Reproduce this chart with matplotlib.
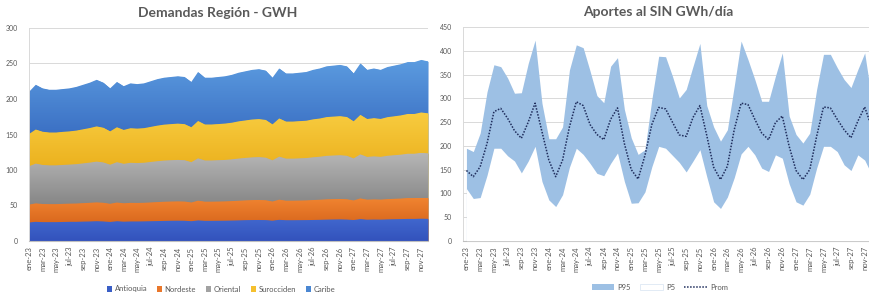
import numpy as np
import matplotlib
matplotlib.use("Agg")
import matplotlib.pyplot as plt
from matplotlib.patches import Patch
from matplotlib.lines import Line2D
from matplotlib.colors import LinearSegmentedColormap

# eje de tiempo: ene-23 .. dic-27
meses = ["ene", "feb", "mar", "abr", "may", "jun", "jul", "ago", "sep", "oct", "nov", "dic"]
anios = ["23", "24", "25", "26", "27"]
fechas = [m + "-" + a for a in anios for m in meses]

# demandas por region (GWh)
regiones = ["Antioquia", "Nordeste", "Oriental", "Surocciden", "Caribe"]
antioquia = [26.0, 27.0, 26.5, 26.5, 26.5, 26.8, 27.0, 27.0, 27.3, 27.5, 27.8, 27.5,
             26.8, 27.8, 27.2, 27.5, 27.5, 27.6, 27.8, 28.0, 28.3, 28.5, 28.6, 28.5,
             27.8, 29.0, 28.4, 28.4, 28.5, 28.6, 28.8, 29.0, 29.3, 29.5, 29.6, 29.4,
             28.6, 29.8, 29.2, 29.2, 29.3, 29.4, 29.6, 29.8, 30.1, 30.3, 30.4, 30.2,
             29.5, 30.8, 30.0, 30.2, 30.1, 30.4, 30.6, 30.8, 31.1, 31.1, 31.4, 31.2]
nordeste = [25.2, 26.0, 25.6, 25.4, 25.4, 25.5, 25.6, 25.8, 26.0, 26.3, 26.6, 26.3,
            25.6, 26.4, 25.9, 26.2, 26.1, 26.2, 26.5, 26.8, 27.0, 27.1, 27.2, 27.1,
            26.4, 27.8, 27.0, 27.0, 27.1, 27.2, 27.4, 27.7, 27.9, 28.1, 28.2, 28.0,
            27.0, 28.4, 27.6, 27.6, 27.7, 27.8, 28.1, 28.3, 28.6, 28.7, 28.8, 28.6,
            27.6, 29.2, 28.2, 28.4, 28.2, 28.6, 28.8, 29.0, 29.4, 29.4, 29.8, 29.6]
oriental = [54.0, 56.0, 55.0, 54.6, 54.6, 54.8, 55.0, 55.4, 56.0, 56.6, 57.4, 56.8,
            55.0, 56.8, 55.6, 56.4, 56.2, 56.4, 57.0, 57.6, 58.0, 58.2, 58.4, 58.2,
            56.8, 59.6, 58.0, 58.0, 58.2, 58.4, 58.8, 59.4, 59.8, 60.2, 60.4, 60.0,
            58.0, 60.6, 59.2, 59.2, 59.4, 59.6, 60.2, 60.6, 61.2, 61.4, 61.6, 61.2,
            59.2, 62.0, 60.2, 60.6, 60.2, 61.0, 61.4, 61.8, 62.4, 62.4, 63.0, 62.6]
surocciden = [45.5, 48.0, 46.8, 46.3, 46.3, 46.6, 46.8, 47.3, 48.0, 48.7, 49.6, 48.9,
              47.0, 49.2, 47.7, 48.7, 48.5, 48.7, 49.4, 50.1, 50.6, 50.8, 51.1, 50.8,
              49.2, 52.6, 50.7, 50.7, 50.9, 51.2, 51.6, 52.4, 52.8, 53.3, 53.5, 53.1,
              50.6, 53.8, 52.2, 52.2, 52.4, 52.6, 53.4, 53.8, 54.6, 54.8, 55.0, 54.6,
              52.2, 55.6, 53.4, 53.8, 53.4, 54.4, 54.8, 55.3, 56.0, 56.0, 56.8, 56.4]
caribe = [59.3, 63.0, 61.1, 60.2, 60.2, 60.3, 60.6, 61.5, 62.7, 63.9, 65.6, 63.5,
          60.6, 63.8, 61.6, 63.2, 62.7, 63.1, 64.3, 65.5, 66.1, 66.4, 66.7, 66.4,
          63.8, 69.0, 65.9, 65.9, 66.3, 66.6, 67.4, 68.5, 69.2, 69.9, 70.3, 69.5,
          65.8, 70.4, 67.8, 67.8, 68.2, 68.6, 69.7, 70.5, 71.5, 71.8, 72.2, 71.4,
          67.5, 72.4, 69.2, 70.0, 69.1, 70.6, 71.4, 72.1, 73.1, 73.1, 74.0, 73.2]

# aportes al SIN (GWh/dia)
p95 = [195, 188, 227, 314, 371, 367, 343, 311, 312, 374, 423, 290,
       215, 215, 240, 360, 413, 407, 358, 306, 291, 368, 386, 277,
       217, 182, 192, 298, 389, 388, 347, 301, 319, 368, 416, 285,
       240, 210, 234, 326, 421, 382, 340, 294, 294, 347, 396, 263,
       224, 206, 227, 319, 393, 393, 365, 340, 323, 361, 396, 300]
p5 = [110, 89, 91, 138, 195, 195, 179, 168, 143, 168, 199, 125,
      86, 72, 97, 155, 195, 182, 163, 142, 137, 163, 185, 125,
      79, 80, 103, 156, 199, 195, 180, 165, 145, 168, 192, 135,
      82, 68, 92, 133, 183, 199, 181, 153, 146, 181, 174, 120,
      82, 75, 98, 153, 199, 199, 188, 160, 148, 181, 170, 140]
prom = [148, 135, 156, 205, 272, 279, 258, 232, 216, 250, 290, 230,
        170, 135, 170, 240, 293, 285, 245, 224, 213, 256, 280, 205,
        150, 130, 180, 245, 281, 278, 250, 223, 220, 260, 285, 222,
        155, 129, 157, 234, 290, 287, 256, 227, 213, 249, 263, 199,
        148, 129, 150, 220, 282, 280, 256, 234, 217, 252, 282, 240]

colores = ["#3A5EC6", "#E9772B", "#A2A2A2", "#F5C02E", "#4B87D2"]
# degradado de cada banda: (abajo, arriba)
degradados = [("#3352BC", "#4168CE"), ("#DA681E", "#F08430"), ("#868686", "#B6B6B6"),
              ("#ECB21F", "#F8CC40"), ("#3B70C4", "#5C9CE0")]
gris_txt = "#595959"
gris_grid = "#D9D9D9"

plt.rcParams["font.family"] = ["Lato", "DejaVu Sans"]

W, H = 869, 300
fig = plt.figure(figsize=(W / 100, H / 100), dpi=100)


def estilo_ejes(ax, ymax, paso):
    ax.set_ylim(0, ymax)
    ax.set_yticks(np.arange(0, ymax + 1, paso))
    ax.grid(axis="y", color=gris_grid, lw=0.7, zorder=0)
    ax.set_axisbelow(True)
    for s in ["top", "right"]:
        ax.spines[s].set_visible(False)
    ax.spines["left"].set_color(gris_grid)
    ax.spines["left"].set_linewidth(0.7)
    ax.spines["bottom"].set_color("#BFBFBF")
    ax.spines["bottom"].set_linewidth(0.8)
    ax.tick_params(axis="both", length=0, colors=gris_txt)
    ax.tick_params(axis="y", pad=8, labelsize=5)
    ax.tick_params(axis="x", pad=4, labelsize=5.5)


x = np.arange(len(fechas))
ticks = x[::2]

# ---- izquierda: demandas por region ----
ax1 = fig.add_axes([29 / W, 1 - 241 / H, 399 / W, 213 / H])
series = [antioquia, nordeste, oriental, surocciden, caribe]
acum = np.cumsum(np.array(series), axis=0)
grad = np.linspace(0, 1, 256).reshape(-1, 1)
# de arriba hacia abajo, cada banda desde 0 para evitar costuras
for k in range(len(series) - 1, -1, -1):
    techo = acum[k]
    piso = acum[k - 1] if k > 0 else np.zeros(len(x))
    poly = ax1.fill_between(x, 0, techo, color=colores[k], lw=0, zorder=2)
    cmap = LinearSegmentedColormap.from_list("g%d" % k, list(degradados[k]))
    im = ax1.imshow(grad, extent=[0, len(x) - 1, piso.min(), techo.max()], origin="lower",
                    aspect="auto", cmap=cmap, zorder=2, interpolation="bilinear")
    im.set_clip_path(poly.get_paths()[0], transform=ax1.transData)
estilo_ejes(ax1, 300, 50)
ax1.set_xlim(0, len(fechas) - 1)
ax1.set_xticks(ticks)
ax1.set_xticklabels([fechas[i] for i in ticks], rotation=90)
fig.text(218 / W, 1 - 13 / H, "Demandas Región - GWH", ha="center", va="center",
         fontsize=10, fontweight="bold", color=gris_txt)

h1 = [Patch(facecolor=c, edgecolor="none") for c in colores]
fig.legend(h1, regiones, loc="center", bbox_to_anchor=(221 / W, 1 - 289 / H),
           ncol=5, frameon=False, fontsize=5.5, handlelength=0.7, handleheight=0.7,
           handletextpad=0.3, columnspacing=1.3, labelcolor=gris_txt)

# ---- derecha: aportes ----
ax2 = fig.add_axes([463 / W, 1 - 240.7 / H, 412 / W, 213.4 / H])
ax2.fill_between(x, 0, p95, color="#9DC0E4", lw=0, zorder=2)
ax2.fill_between(x, 0, p5, color="white", lw=0, zorder=3)
ax2.plot(x, prom, color="#1F2D5C", lw=1.1, ls=(0, (1, 1)), zorder=4)
estilo_ejes(ax2, 450, 50)
ax2.set_xlim(-0.5, len(fechas) - 0.5)
ax2.set_xticks(ticks)
ax2.set_xticklabels([fechas[i] for i in ticks], rotation=90)
fig.text(658 / W, 1 - 12 / H, "Aportes al SIN GWh/día", ha="center", va="center",
         fontsize=10, fontweight="bold", color=gris_txt)

h2 = [Patch(facecolor="#9DC0E4", edgecolor="none"),
      Patch(facecolor="white", edgecolor="#DDE8F4", lw=0.6),
      Line2D([0], [0], color="#1F2D5C", lw=1.1, ls=(0, (1, 1)))]
fig.legend(h2, ["P95", "P5", "Prom"], loc="center", bbox_to_anchor=(660 / W, 1 - 287 / H),
           ncol=3, frameon=False, fontsize=5.5, handlelength=3.0, handleheight=0.9,
           handletextpad=0.4, columnspacing=1.2, labelcolor=gris_txt)

fig.savefig("out.png", dpi=100)
